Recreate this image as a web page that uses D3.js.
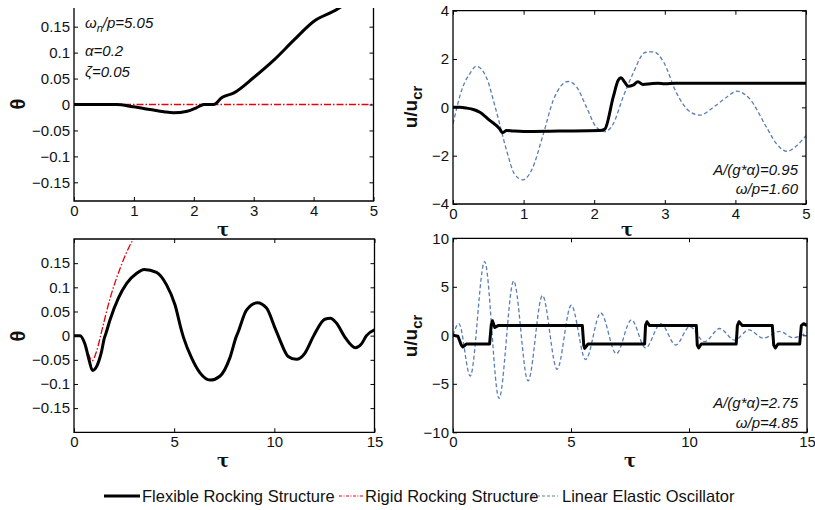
<!DOCTYPE html>
<html>
<head>
<meta charset="utf-8">
<script src="https://cdn.jsdelivr.net/npm/d3@7"></script>
<style>
  body { margin: 0; background: #fff; }
  text { font-family: "Liberation Sans", Arial, sans-serif; fill: #111; }
</style>
</head>
<body>
<svg id="fig" width="815" height="510"></svg>
<script>
// ---- data ----
// top left : theta, alpha=0.2, short tau
var tlTau  = [0, 0.35, 0.71, 0.99, 1.27, 1.5, 1.66, 1.89, 2.05, 2.17, 2.33, 2.47, 2.67, 3.0, 3.34, 3.67, 4.0, 4.4, 4.6];
var tlFlex = [0, 0, 0, -0.0045, -0.0097, -0.014, -0.016, -0.013, -0.006, 0, 0, 0.0135, 0.0225, 0.052, 0.086, 0.124, 0.16, 0.184, 0.2];
var tlRigidTau = [0, 5];
var tlRigid    = [0, 0];

// top right : u/ucr, A/(g*a)=0.95
var trTau  = [0, 0.1, 0.19, 0.3, 0.38, 0.52, 0.66, 0.7, 0.76, 0.85, 1.0, 1.5, 2.08, 2.15, 2.27, 2.34, 2.38, 2.43, 2.48, 2.55, 2.62, 2.69, 2.8, 2.9, 3.0, 3.15, 5];
var trFlex = [0, 0, -0.03, -0.1, -0.2, -0.54, -0.89, -1.05, -0.96, -0.98, -1.0, -0.98, -0.96, -0.9, 0.43, 1.12, 1.22, 1.05, 0.87, 0.92, 1.06, 0.95, 0.98, 1.0, 0.98, 1.0, 1.0];
var trLinTau = [0, 0.14, 0.24, 0.33, 0.47, 0.61, 0.76, 0.87, 0.99, 1.11, 1.28, 1.42, 1.54, 1.63, 1.75, 1.89, 2.03, 2.15, 2.27, 2.41, 2.55, 2.72, 2.84, 2.98, 3.17, 3.36, 3.5, 3.69, 3.88, 4.02, 4.2, 4.44, 4.58, 4.73, 4.87, 5];
var trLin    = [-0.68, 0.85, 1.4, 1.7, 1.26, -0.12, -1.79, -2.76, -3.0, -2.62, -1.1, 0.29, 0.92, 1.07, 0.85, 0.01, -0.82, -1.0, -0.68, 0.43, 1.4, 2.27, 2.3, 1.89, 0.57, -0.19, -0.32, 0.01, 0.43, 0.67, 0.36, -0.82, -1.5, -1.82, -1.58, -1.17];

// bottom left : theta, long tau
var blTau  = [0, 0.3, 0.55, 0.75, 0.92, 1.15, 1.38, 1.52, 1.58, 1.8, 2.21, 2.63, 3.13, 3.5, 4.12, 4.62, 5.04, 5.37, 5.47, 5.87, 6.29, 6.8, 7.28, 7.78, 8.1, 8.18, 8.61, 9.15, 9.61, 10.03, 10.18, 10.25, 10.69, 11.1, 11.53, 11.94, 12.03, 12.52, 12.8, 13.1, 13.52, 14.05, 14.35, 14.6, 15];
var blFlex = [0, 0, -0.018, -0.05, -0.072, -0.062, -0.032, -0.004, 0.003, 0.033, 0.077, 0.108, 0.129, 0.137, 0.131, 0.105, 0.064, 0.01, -0.004, -0.046, -0.077, -0.092, -0.084, -0.046, -0.002, 0.006, 0.053, 0.068, 0.057, 0.016, 0.001, -0.006, -0.043, -0.049, -0.036, -0.002, 0.005, 0.034, 0.036, 0.026, -0.003, -0.025, -0.017, 0, 0.012];
var blRigidTau = [0, 0.3, 0.55, 0.76, 0.9, 1.13, 1.38, 1.8, 2.3, 2.71, 2.96, 3.2];
var blRigid    = [0, -0.001, -0.018, -0.042, -0.052, -0.032, 0.009, 0.077, 0.139, 0.18, 0.2, 0.22];

// bottom right : u/ucr, A/(g*a)=2.75
var brTau  = [0, 0.21, 0.35, 0.42, 0.56, 1.55, 1.62, 1.67, 1.77, 1.91, 5.48, 5.54, 5.58, 5.72, 8.12, 8.16, 8.22, 8.33, 10.31, 10.35, 10.41, 10.52, 12.0, 12.05, 12.12, 12.26, 13.53, 13.59, 13.66, 13.77, 14.69, 14.76, 14.86, 15];
var brFlex = [0, -0.1, -1.0, -1.2, -0.9, -0.9, 1.05, 1.5, 0.8, 1.0, 1.0, -1.0, -1.35, -0.9, -0.9, 1.05, 1.4, 1.0, 1.0, -1.0, -1.3, -0.9, -0.9, 1.0, 1.4, 1.0, 1.0, -1.0, -1.3, -0.9, -0.9, 1.0, 1.2, 1.0];
var brLinTau = [0, 0.25, 0.73, 1.34, 1.95, 2.57, 3.18, 3.79, 4.41, 5.01, 5.62, 6.26, 6.92, 7.56, 8.16, 8.8, 9.44, 10.03, 10.66, 11.3, 11.93, 12.54, 13.14, 13.84, 14.41, 15];
var brLin    = [0, 1.2, -4.2, 7.6, -6.5, 5.6, -4.7, 4.1, -3.5, 3.1, -2.5, 2.3, -1.9, 1.6, -1.3, 1.2, -1.0, 0.9, -0.65, 0.7, -0.5, 0.55, -0.3, 0.4, -0.25, 0.3];

var thetaTicks = [-0.15, -0.1, -0.05, 0, 0.05, 0.1, 0.15];
var shortTauTicks = [0, 1, 2, 3, 4, 5];
var longTauTicks = [0, 5, 10, 15];
var uTicksSmall = [-4, -2, 0, 2, 4];
var uTicksLarge = [-10, -5, 0, 5, 10];

var legendNames = ["Flexible Rocking Structure", "Rigid Rocking Structure", "Linear Elastic Oscillator"];

// ---- drawing ----
var svg = d3.select("#fig");
var FLEX = "#000", RIGID = "#e8000b", LIN = "#5b7db6";
var clipId = 0;

function zip(a, b) { return a.map(function(v, i) { return [v, b[i]]; }); }

function numFmt(d) { return d3.format("")(+d.toFixed(2)); }

function panel(opt) {
    var g = svg.append("g").attr("transform", "translate(" + opt.left + "," + opt.top + ")");
    var w = opt.right - opt.left, h = opt.bottom - opt.top;
    var x = d3.scaleLinear().domain(opt.xDom).range([0, w]);
    var y = d3.scaleLinear().domain(opt.yDom).range([h, 0]);
    var id = "clip" + (clipId++);
    g.append("clipPath").attr("id", id).append("rect").attr("width", w).attr("height", h);
    var plot = g.append("g").attr("clip-path", "url(#" + id + ")");

    var line = function(curve) {
        return d3.line().x(function(d) { return x(d[0]); }).y(function(d) { return y(d[1]); }).curve(curve);
    };
    opt.series.forEach(function(s) {
        plot.append("path").datum(s.data)
            .attr("d", line(s.curve)(s.data))
            .attr("fill", "none").attr("stroke", s.color)
            .attr("stroke-width", s.width)
            .attr("stroke-dasharray", s.dash || null)
            .attr("stroke-linejoin", "round");
    });

    // axes, MATLAB style ticks pointing inward
    var ax = g.append("g").attr("transform", "translate(0," + h + ")")
        .call(d3.axisBottom(x).tickValues(opt.xTicks).tickSize(-4).tickPadding(4).tickFormat(numFmt));
    var ay = g.append("g")
        .call(d3.axisLeft(y).tickValues(opt.yTicks).tickSize(-4).tickPadding(4).tickFormat(numFmt));
    var ar = g.append("g").attr("transform", "translate(" + w + ",0)")
        .call(d3.axisRight(y).tickValues(opt.yTicks).tickSize(-4).tickFormat(""));
    var axes = [ax, ay, ar];
    if (!opt.noTop) {
        axes.push(g.append("g").call(d3.axisTop(x).tickValues(opt.xTicks).tickSize(-4).tickFormat("")));
    }
    axes.forEach(function(a) {
        a.select(".domain").remove();
        a.selectAll(".tick line").attr("stroke", "#000").attr("stroke-width", 1);
        a.selectAll(".tick text").attr("font-size", 15).attr("fill", "#111")
            .style("font-family", "'Liberation Sans', Arial, sans-serif");
    });

    // box
    var border = g.append("path").attr("fill", "none").attr("stroke", "#000").attr("stroke-width", 1.3);
    if (opt.noTop) border.attr("d", "M0,0V" + h + "H" + w + "V0");
    else border.attr("d", "M0,0V" + h + "H" + w + "V0Z");

    return { g: g, x: x, y: y, w: w, h: h };
}

function yLabelTheta(cx, cy) {
    svg.append("text").attr("transform", "translate(" + cx + "," + cy + ") rotate(-90)")
        .attr("text-anchor", "middle").attr("dy", "0.35em")
        .attr("font-size", 20).attr("font-weight", "bold").text("θ");
}

function yLabelU(cx, cy) {
    var t = svg.append("text").attr("transform", "translate(" + cx + "," + cy + ") rotate(-90)")
        .attr("text-anchor", "middle").attr("font-size", 19).attr("font-weight", "bold");
    t.append("tspan").text("u/u");
    t.append("tspan").attr("font-size", 15).attr("dy", 5).text("cr");
}

function xLabelTau(cx, cy) {
    svg.append("text").attr("x", cx).attr("y", cy).attr("text-anchor", "middle")
        .attr("font-size", 18).attr("font-weight", "bold")
        .style("font-family", "'DejaVu Serif', 'Liberation Serif', serif").text("τ");
}

function noteRight(xr, yb, pre, val) {
    svg.append("text").attr("x", xr).attr("y", yb).attr("text-anchor", "end")
        .attr("font-size", 15).attr("font-style", "italic").text(pre + val);
}

// top left
panel({
    left: 74, right: 373.5, top: 8, bottom: 201, noTop: true,
    xDom: [0, 5], yDom: [-0.186, 0.186],
    xTicks: shortTauTicks, yTicks: thetaTicks,
    series: [
        { data: zip(tlRigidTau, tlRigid), color: RIGID, width: 1.3, dash: "7,2,1.5,2", curve: d3.curveLinear },
        { data: zip(tlTau, tlFlex), color: FLEX, width: 3, curve: d3.curveMonotoneX }
    ]
});
yLabelTheta(18, 104);
xLabelTau(223, 236);
var n1 = svg.append("text").attr("x", 85).attr("y", 28).attr("font-size", 15).attr("font-style", "italic");
n1.append("tspan").text("ω");
n1.append("tspan").attr("font-size", 11).attr("dy", 4).text("n");
n1.append("tspan").attr("dy", -4).text("/p=5.05");
svg.append("text").attr("x", 85).attr("y", 56).attr("font-size", 15).attr("font-style", "italic").text("α=0.2");
svg.append("text").attr("x", 85).attr("y", 77).attr("font-size", 15).attr("font-style", "italic").text("ζ=0.05");

// top right
panel({
    left: 453, right: 806, top: 10.7, bottom: 204,
    xDom: [0, 5], yDom: [-4, 4],
    xTicks: shortTauTicks, yTicks: uTicksSmall,
    series: [
        { data: zip(trLinTau, trLin), color: LIN, width: 1.3, dash: "4,2.5", curve: d3.curveMonotoneX },
        { data: zip(trTau, trFlex), color: FLEX, width: 3, curve: d3.curveMonotoneX }
    ]
});
yLabelU(417, 107);
xLabelTau(627, 236);
noteRight(798, 175, "A/(g*α)=", "0.95");
noteRight(798, 194, "ω/p=", "1.60");

// bottom left
panel({
    left: 74, right: 374.5, top: 239, bottom: 432.3,
    xDom: [0, 15], yDom: [-0.2, 0.2],
    xTicks: longTauTicks, yTicks: thetaTicks,
    series: [
        { data: zip(blRigidTau, blRigid), color: RIGID, width: 1.3, dash: "7,2,1.5,2", curve: d3.curveMonotoneX },
        { data: zip(blTau, blFlex), color: FLEX, width: 3, curve: d3.curveMonotoneX }
    ]
});
yLabelTheta(18, 336);
xLabelTau(223, 467);

// bottom right
panel({
    left: 453, right: 807, top: 238.3, bottom: 432.3,
    xDom: [0, 15], yDom: [-10, 10],
    xTicks: longTauTicks, yTicks: uTicksLarge,
    series: [
        { data: zip(brLinTau, brLin), color: LIN, width: 1.3, dash: "4,2.5", curve: d3.curveMonotoneX },
        { data: zip(brTau, brFlex), color: FLEX, width: 3, curve: d3.curveLinear }
    ]
});
yLabelU(417, 336);
xLabelTau(630, 467);
noteRight(798, 408, "A/(g*α)=", "2.75");
noteRight(798, 428, "ω/p=", "4.85");

// legend
var legend = svg.append("g").attr("transform", "translate(0,496)");
var legendItems = [
    { x0: 104, x1: 140, tx: 142, color: FLEX, width: 3, dash: null },
    { x0: 339, x1: 363, tx: 365, color: RIGID, width: 1.2, dash: "3,1.5,1,1.5" },
    { x0: 532, x1: 558, tx: 562, color: LIN, width: 1.2, dash: "3,2" }
];
legendItems.forEach(function(it, i) {
    legend.append("line").attr("x1", it.x0).attr("x2", it.x1).attr("y1", 0).attr("y2", 0)
        .attr("stroke", it.color).attr("stroke-width", it.width).attr("stroke-dasharray", it.dash);
    legend.append("text").attr("x", it.tx).attr("y", 0).attr("dy", "0.35em")
        .attr("font-size", 16.5).text(legendNames[i]);
});
</script>
</body>
</html>
